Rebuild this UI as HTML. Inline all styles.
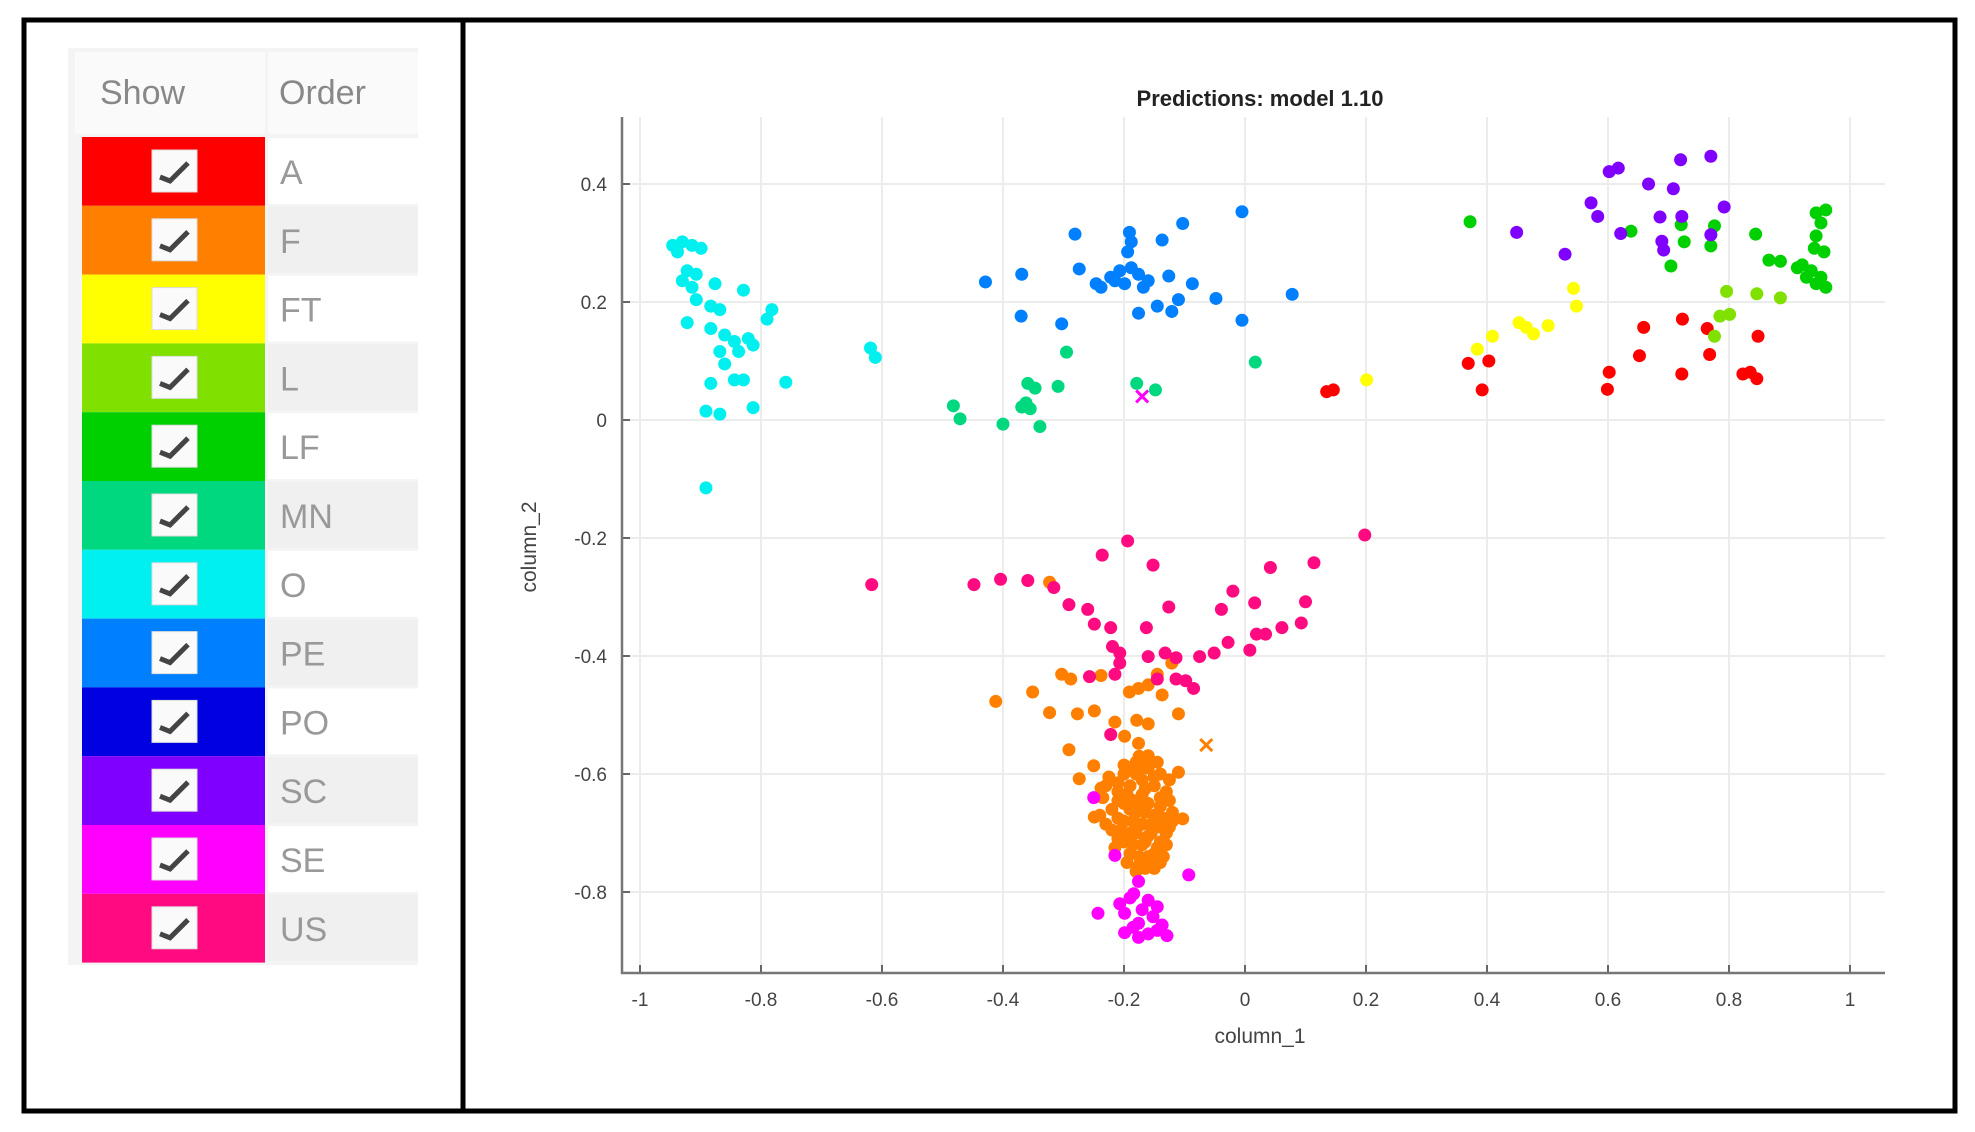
<!DOCTYPE html>
<html><head><meta charset="utf-8">
<style>
html,body{margin:0;padding:0;background:#fff;}
body{width:1975px;height:1132px;position:relative;overflow:hidden;font-family:"Liberation Sans",sans-serif;}
svg{position:absolute;left:0;top:0;}
</style></head>
<body>
<svg id="root" width="1975" height="1132" xmlns="http://www.w3.org/2000/svg">
  <rect x="24" y="20" width="1931" height="1091" fill="none" stroke="#000" stroke-width="5"/>
  <line x1="463" y1="20" x2="463" y2="1111" stroke="#000" stroke-width="5"/>
  <g id="legend">
    <rect x="68" y="48" width="350" height="917" fill="#f4f4f4"/>
    <rect x="75" y="52" width="190" height="82" fill="#fafafa"/>
    <rect x="268" y="52" width="150" height="82" fill="#fafafa"/>
    <text x="100" y="104" font-size="34" fill="#888">Show</text>
    <text x="279" y="104" font-size="34" fill="#888">Order</text>
  </g>
  <g id="chart"></g>
</svg>
<script>
const classNames = ["A","F","FT","L","LF","MN","O","PE","PO","SC","SE","US"];
const classColors = ["#ff0000","#ff8000","#ffff00","#80e000","#00d000","#00d880","#00f0f0","#0080ff","#0000e0","#8000ff","#ff00ff","#ff0a80"];

const seriesA = [[0.135,0.048],[0.146,0.051],[0.369,0.096],[0.403,0.100],[0.392,0.051],[0.602,0.081],[0.599,0.052],[0.652,0.109],[0.659,0.157],[0.723,0.171],[0.722,0.078],[0.764,0.155],[0.768,0.111],[0.848,0.142],[0.823,0.078],[0.835,0.081],[0.846,0.070]];
const seriesF = [[-0.323,-0.275],[-0.412,-0.477],[-0.351,-0.461],[-0.303,-0.431],[-0.288,-0.439],[-0.323,-0.496],[-0.277,-0.498],[-0.249,-0.493],[-0.238,-0.433],[-0.191,-0.461],[-0.176,-0.455],[-0.160,-0.449],[-0.137,-0.466],[-0.121,-0.412],[-0.145,-0.431],[-0.110,-0.498],[-0.179,-0.509],[-0.160,-0.515],[-0.215,-0.512],[-0.199,-0.536],[-0.176,-0.548],[-0.291,-0.559],[-0.160,-0.569],[-0.110,-0.597],[-0.250,-0.586],[-0.274,-0.608],[-0.238,-0.624],[-0.103,-0.676],[-0.249,-0.673],[-0.18,-0.58],[-0.16,-0.59],[-0.2,-0.6],[-0.17,-0.61],[-0.14,-0.6],[-0.19,-0.62],[-0.15,-0.62],[-0.21,-0.63],[-0.17,-0.635],[-0.13,-0.63],[-0.2,-0.65],[-0.16,-0.65],[-0.14,-0.655],[-0.22,-0.66],[-0.18,-0.665],[-0.15,-0.67],[-0.12,-0.665],[-0.2,-0.68],[-0.17,-0.685],[-0.14,-0.69],[-0.22,-0.695],[-0.19,-0.7],[-0.16,-0.705],[-0.13,-0.7],[-0.2,-0.715],[-0.17,-0.72],[-0.145,-0.725],[-0.19,-0.735],[-0.16,-0.74],[-0.135,-0.74],[-0.175,-0.755],[-0.15,-0.76],[-0.23,-0.62],[-0.24,-0.67],[-0.21,-0.71],[-0.18,-0.6],[-0.155,-0.685],[-0.185,-0.645],[-0.14,-0.715],
[-0.19,-0.59],[-0.17,-0.59],[-0.15,-0.605],[-0.21,-0.615],[-0.165,-0.625],[-0.14,-0.64],[-0.195,-0.635],[-0.175,-0.65],[-0.125,-0.645],[-0.21,-0.645],[-0.19,-0.66],[-0.165,-0.665],[-0.135,-0.675],[-0.21,-0.675],[-0.185,-0.68],[-0.155,-0.7],[-0.125,-0.69],[-0.18,-0.7],[-0.205,-0.695],[-0.165,-0.715],[-0.13,-0.72],[-0.185,-0.72],[-0.15,-0.735],[-0.175,-0.74],[-0.14,-0.75],[-0.165,-0.76],[-0.18,-0.765],[-0.155,-0.745],[-0.195,-0.75],[-0.235,-0.64],[-0.225,-0.605],[-0.2,-0.585],[-0.16,-0.575],[-0.145,-0.58],[-0.175,-0.57],[-0.125,-0.61],[-0.12,-0.68],[-0.23,-0.685],[-0.215,-0.725]];
const seriesFT = [[0.201,0.068],[0.384,0.120],[0.409,0.142],[0.453,0.165],[0.465,0.157],[0.477,0.146],[0.501,0.160],[0.543,0.223],[0.548,0.193]];
const seriesL = [[0.796,0.218],[0.846,0.214],[0.885,0.207],[0.785,0.176],[0.801,0.179],[0.776,0.142]];
const seriesLF = [[0.372,0.336],[0.638,0.320],[0.721,0.331],[0.726,0.302],[0.704,0.261],[0.770,0.295],[0.776,0.329],[0.844,0.315],[0.866,0.271],[0.885,0.269],[0.944,0.351],[0.960,0.356],[0.952,0.334],[0.944,0.312],[0.941,0.291],[0.957,0.285],[0.921,0.263],[0.936,0.253],[0.952,0.242],[0.944,0.231],[0.960,0.225],[0.928,0.242],[0.913,0.258]];
const seriesMN = [[-0.482,0.024],[-0.471,0.002],[-0.400,-0.007],[-0.369,0.022],[-0.359,0.062],[-0.347,0.054],[-0.355,0.019],[-0.339,-0.011],[-0.309,0.057],[-0.295,0.115],[-0.179,0.062],[-0.148,0.051],[0.017,0.098],[-0.362,0.029]];
const seriesO = [[-0.946,0.296],[-0.930,0.302],[-0.914,0.296],[-0.899,0.291],[-0.938,0.285],[-0.922,0.253],[-0.907,0.247],[-0.930,0.236],[-0.914,0.225],[-0.876,0.231],[-0.829,0.220],[-0.907,0.204],[-0.883,0.193],[-0.868,0.187],[-0.782,0.187],[-0.790,0.171],[-0.922,0.165],[-0.883,0.155],[-0.860,0.144],[-0.844,0.133],[-0.821,0.138],[-0.813,0.127],[-0.868,0.116],[-0.837,0.116],[-0.860,0.095],[-0.883,0.062],[-0.829,0.068],[-0.759,0.064],[-0.891,0.015],[-0.868,0.010],[-0.813,0.021],[-0.891,-0.115],[-0.619,0.122],[-0.611,0.106],[-0.844,0.068]];
const seriesPE = [[-0.281,0.315],[-0.191,0.318],[-0.188,0.302],[-0.194,0.285],[-0.137,0.305],[-0.103,0.333],[-0.005,0.353],[-0.429,0.234],[-0.369,0.247],[-0.274,0.256],[-0.246,0.231],[-0.222,0.242],[-0.207,0.253],[-0.188,0.258],[-0.176,0.247],[-0.160,0.236],[-0.199,0.231],[-0.168,0.225],[-0.126,0.244],[-0.087,0.231],[-0.370,0.176],[-0.303,0.163],[-0.176,0.181],[-0.145,0.193],[-0.121,0.184],[-0.110,0.204],[-0.048,0.206],[-0.005,0.169],[0.078,0.213],[-0.238,0.225],[-0.215,0.236]];
const seriesPO = [];
const seriesSC = [[0.602,0.421],[0.617,0.427],[0.720,0.441],[0.770,0.447],[0.667,0.400],[0.708,0.392],[0.572,0.368],[0.583,0.345],[0.686,0.344],[0.722,0.345],[0.792,0.361],[0.449,0.318],[0.529,0.281],[0.621,0.316],[0.689,0.303],[0.692,0.288],[0.770,0.314]];
const seriesSE = [[-0.250,-0.640],[-0.215,-0.738],[-0.093,-0.771],[-0.176,-0.782],[-0.184,-0.803],[-0.207,-0.820],[-0.160,-0.814],[-0.145,-0.825],[-0.243,-0.836],[-0.199,-0.836],[-0.152,-0.842],[-0.176,-0.853],[-0.137,-0.856],[-0.199,-0.869],[-0.160,-0.871],[-0.129,-0.874],[-0.176,-0.877],[-0.19,-0.81],[-0.17,-0.83],[-0.185,-0.86],[-0.145,-0.865]];
const seriesUS = [[-0.617,-0.279],[-0.448,-0.279],[-0.404,-0.270],[-0.359,-0.272],[-0.236,-0.229],[-0.194,-0.205],[-0.152,-0.246],[0.198,-0.195],[0.114,-0.242],[0.042,-0.250],[-0.316,-0.284],[-0.291,-0.313],[-0.260,-0.321],[-0.126,-0.317],[-0.020,-0.290],[-0.039,-0.321],[0.016,-0.310],[0.100,-0.308],[0.093,-0.344],[0.061,-0.352],[0.034,-0.363],[0.019,-0.363],[-0.028,-0.377],[-0.051,-0.395],[-0.075,-0.401],[0.008,-0.390],[-0.249,-0.346],[-0.222,-0.352],[-0.163,-0.352],[-0.219,-0.384],[-0.207,-0.395],[-0.160,-0.401],[-0.132,-0.395],[-0.114,-0.403],[-0.207,-0.412],[-0.215,-0.431],[-0.257,-0.435],[-0.114,-0.439],[-0.098,-0.442],[-0.085,-0.455],[-0.222,-0.533],[-0.145,-0.439]];
const crossSE = [[-0.170,0.040]];
const crossF = [[-0.064,-0.551]];
const xTicks = [-1,-0.8,-0.6,-0.4,-0.2,0,0.2,0.4,0.6,0.8,1];
const xTickLabels = ["-1","-0.8","-0.6","-0.4","-0.2","0","0.2","0.4","0.6","0.8","1"];
const yTicks = [0.4,0.2,0,-0.2,-0.4,-0.6,-0.8];
const yTickLabels = ["0.4","0.2","0","-0.2","-0.4","-0.6","-0.8"];

const NS = "http://www.w3.org/2000/svg";
function mk(tag, attrs, parent){const e=document.createElementNS(NS,tag);for(const k in attrs)e.setAttribute(k,attrs[k]);parent.appendChild(e);return e;}
const sx = v => 1245 + v*605;
const sy = v => 420 - v*590;
const L=622,R=1885,T=117,B=973;

const lg = document.getElementById('legend');
classNames.forEach((n,i)=>{
  const y = 137 + i*68.8;
  const r = mk('rect',{x:82,y:y,width:183,height:68.8,fill:classColors[i]},lg);
  
  
  const oc = mk('rect',{x:268,y:y+1,width:150,height:66,fill:i%2?'#f0f0f0':'#ffffff'},lg);
  
  
  const cb = mk('rect',{x:152,y:y+13,width:45,height:42,fill:'#fafafa',stroke:'#ddd'},lg);
  
  
  const ck = mk('path',{d:`M160 ${y+40} L170 ${y+44} L188 ${y+26}`,fill:'none',stroke:'#444','stroke-width':5},lg);
  
  
  const t = mk('text',{x:280,y:y+47,'font-size':34,fill:'#999'},lg);
  t.textContent = n;
  
  
});

const g = document.getElementById('chart');
xTicks.forEach((v,i)=>{
  const gl = mk('line',{x1:sx(v),x2:sx(v),y1:T,y2:B,stroke:'#ececec','stroke-width':2},g);
  
  
  const tk = mk('line',{x1:sx(v),x2:sx(v),y1:B,y2:B-8,stroke:'#666','stroke-width':2},g);
  
  
  const t = mk('text',{x:sx(v),y:B+33,'font-size':19,fill:'#444','text-anchor':'middle'},g);
  t.textContent = xTickLabels[i];
  
  
});
yTicks.forEach((v,i)=>{
  const gl = mk('line',{x1:L,x2:R,y1:sy(v),y2:sy(v),stroke:'#ececec','stroke-width':2},g);
  
  
  const tk = mk('line',{x1:L,x2:L+8,y1:sy(v),y2:sy(v),stroke:'#666','stroke-width':2},g);
  
  
  const t = mk('text',{x:607,y:sy(v)+7,'font-size':19,fill:'#444','text-anchor':'end'},g);
  t.textContent = yTickLabels[i];
  
  
});
const ax = mk('path',{d:`M${L} ${T} L${L} ${B} L${R} ${B}`,fill:'none',stroke:'#777','stroke-width':2.5},g);



const allSeries = [seriesA,seriesF,seriesFT,seriesL,seriesLF,seriesMN,seriesO,seriesPE,seriesPO,seriesSC,seriesSE,seriesUS];
allSeries.forEach((s,i)=>{
  s.forEach(p=>{
    const c = mk('circle',{cx:sx(p[0]),cy:sy(p[1]),r:6.5,fill:classColors[i]},g);
    
    
  });
});
function cross(p,col,nm){
  const x=sx(p[0]),y=sy(p[1]);
  const e = mk('path',{d:`M${x-6} ${y-6}L${x+6} ${y+6}M${x-6} ${y+6}L${x+6} ${y-6}`,stroke:col,'stroke-width':3},g);
  
  
}
crossSE.forEach(p=>cross(p,classColors[10],'cross-marker-se'));
crossF.forEach(p=>cross(p,classColors[1],'cross-marker-f'));

const title = mk('text',{x:1260,y:106,'font-size':22,'font-weight':'bold',fill:'#222','text-anchor':'middle'},g);
title.textContent = 'Predictions: model 1.10';


const xl = mk('text',{x:1260,y:1043,'font-size':21,fill:'#444','text-anchor':'middle'},g);
xl.textContent = 'column_1';


const yl = mk('text',{x:0,y:0,'font-size':21,fill:'#444','text-anchor':'middle',transform:'translate(536,547) rotate(-90)'},g);
yl.textContent = 'column_2';


</script>
</body></html>
